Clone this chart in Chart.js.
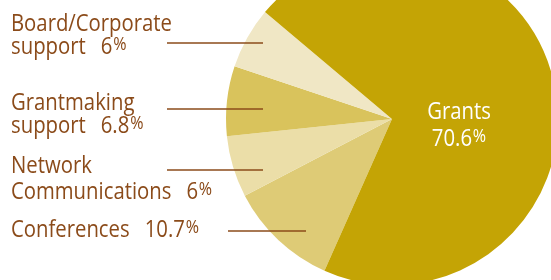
<!DOCTYPE html>
<html>
<head>
<meta charset="utf-8">
<script src="https://cdn.jsdelivr.net/npm/chart.js@4"></script>
<style>
  html, body { margin: 0; padding: 0; background: #fff; }
  #wrap { width: 551px; height: 280px; position: relative; }
</style>
</head>
<body>
<div id="wrap"><canvas id="budgetPie" width="551" height="280"></canvas></div>
<script>
// data (percent of budget)
const categories = ["Conferences", "Network Communications", "Grantmaking support", "Board/Corporate support", "Grants"];
const shares = [10.7, 6, 6.8, 6, 70.6];
const sliceColors = ["#DECB76", "#EBDEA8", "#D9C35C", "#F0E7C5", "#C4A405"];

// label text, split in lines, the last line ends with the value
const labelLines = [
  ["Conferences", "10.7"],
  ["Network", "Communications", "6"],
  ["Grantmaking", "support", "6.8"],
  ["Board/Corporate", "support", "6"],
  ["Grants", "70.6"],
];

const brown = "#8B4B1A";
const fontFam = "'Open Sans', sans-serif";

// draw one line: text, then the value in big type and a small raised %
function drawLine(ctx, txt, val, x, y, size, sx, align) {
  const pctSize = Math.round(size * 0.8);
  const gap = txt && val ? 15 / sx : 0;
  ctx.font = size + "px " + fontFam;
  const txtW = ctx.measureText(txt).width;
  const valW = val ? ctx.measureText(val).width : 0;
  ctx.font = pctSize + "px " + fontFam;
  const pctW = val ? ctx.measureText("%").width + 1 : 0;
  const total = (txtW + gap + valW + pctW) * sx;
  const left = align === "center" ? x - total / 2 : x;
  ctx.save();
  ctx.translate(left, y);
  ctx.scale(sx, 1);
  ctx.font = size + "px " + fontFam;
  ctx.fillText(txt, 0, 0);
  if (val) {
    ctx.fillText(val, txtW + gap, 0);
    ctx.font = pctSize + "px " + fontFam;
    ctx.fillText("%", txtW + gap + valW + 1, -4);
  }
  ctx.restore();
}

// pie is bigger than the canvas: set the area by hand before the arcs are computed
const pieArea = {
  id: "pieArea",
  afterLayout(chart) {
    chart.chartArea = { left: 226, top: -47, right: 558, bottom: 285, width: 332, height: 332 };
  },
};

const labelPlugin = {
  id: "sideLabels",
  afterDraw(chart) {
    const ctx = chart.ctx;
    const size = 24;
    ctx.font = size + "px " + fontFam;
    const sx = 161 / ctx.measureText("Board/Corporate").width;
    ctx.textBaseline = "alphabetic";
    ctx.textAlign = "left";
    ctx.fillStyle = brown;

    // left labels: [lines, baselines]
    const place = [
      [labelLines[3], [31, 54]],
      [labelLines[2], [110, 133]],
      [labelLines[1], [173, 199]],
      [labelLines[0], [237]],
    ];
    place.forEach(([lines, ys]) => {
      lines.slice(0, -1).forEach((t, i) => {
        const last = i === lines.length - 2;
        drawLine(ctx, t, last ? lines[lines.length - 1] : null, 11, ys[i], size, sx, "left");
      });
    });

    // leader lines
    ctx.strokeStyle = brown;
    ctx.lineWidth = 1.5;
    [[167, 263, 43], [167, 263, 109], [167, 263, 170], [228, 306, 231]].forEach(([x1, x2, y]) => {
      ctx.beginPath();
      ctx.moveTo(x1, y);
      ctx.lineTo(x2, y);
      ctx.stroke();
    });

    // grants label inside the big slice
    ctx.fillStyle = "#ffffff";
    drawLine(ctx, labelLines[4][0], null, 459, 119, size, sx, "center");
    drawLine(ctx, "", labelLines[4][1], 459, 146, size, sx, "center");
  },
};

new Chart(document.getElementById("budgetPie"), {
  type: "pie",
  data: {
    labels: categories,
    datasets: [
      {
        data: shares,
        backgroundColor: sliceColors,
        borderWidth: 0,
        clip: false,
      },
    ],
  },
  options: {
    responsive: false,
    animation: false,
    rotation: 204,
    plugins: {
      legend: { display: false },
      tooltip: { enabled: false },
    },
  },
  plugins: [pieArea, labelPlugin],
});
</script>
</body>
</html>
